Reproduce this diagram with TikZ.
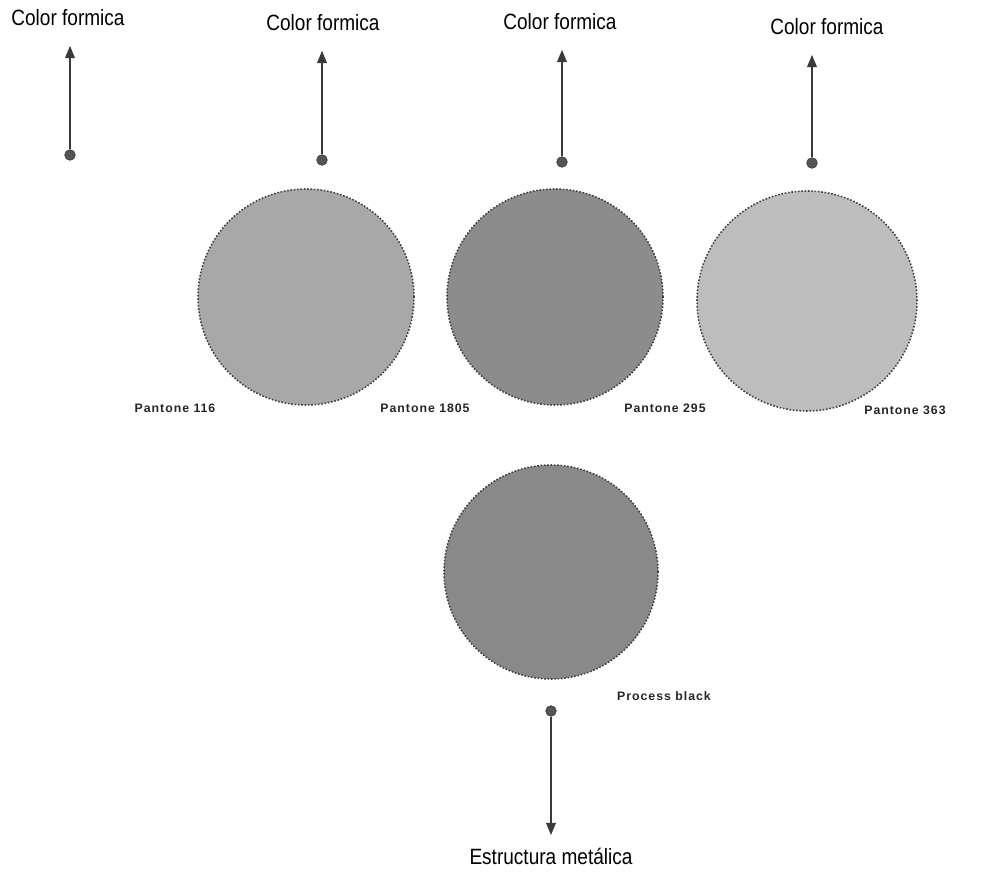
\documentclass[tikz,border=0pt]{standalone}
\usepackage{fontspec}
\setmainfont{Liberation Sans}
\newfontfamily\narrowfont[FakeStretch=0.86]{Liberation Sans}
\newfontfamily\tagfont[LetterSpace=8]{Liberation Sans}
\usepackage{tikz}
\usetikzlibrary{positioning,arrows.meta}
\definecolor{cInk}{HTML}{3A3A3A}
\definecolor{cDot}{HTML}{555555}
\definecolor{cSwA}{HTML}{A8A8A8}
\definecolor{cSwB}{HTML}{8C8C8C}
\definecolor{cSwC}{HTML}{BDBDBD}
\definecolor{cSwD}{HTML}{898989}

\begin{document}
\begin{tikzpicture}[
  >={Triangle[length=7pt,width=5.5pt]},
  lbl/.style={font=\narrowfont\fontsize{12.6}{15}\selectfont, text=black, inner sep=1pt},
  tag/.style={font=\tagfont\bfseries\fontsize{7}{8}\selectfont, text=black!85, inner sep=1pt},
  pin/.style={circle, fill=cDot, draw=cInk, line width=0.4pt, inner sep=0pt, minimum size=6pt},
  swatch/.style={circle, draw=black!75, densely dotted, line width=0.9pt, inner sep=0pt},
  lead/.style={->, draw=cInk, line width=0.9pt, shorten >=10pt},
]
\useasboundingbox (0,0) rectangle (19.96,17.52);

% top row: formica colours
\node[lbl] (t1) at (1.36,17.16) {Color formica};
\node[lbl] (t2) at (6.46,17.06) {Color formica};
\node[lbl] (t3) at (11.20,17.08) {Color formica};
\node[lbl] (t4) at (16.54,16.98) {Color formica};
\node[pin] (d1) at (1.40,14.42) {};
\node[pin] (d2) at (6.44,14.32) {};
\node[pin] (d3) at (11.24,14.28) {};
\node[pin] (d4) at (16.24,14.26) {};

\draw[lead] (d1) -- (d1 |- t1.south);
\draw[lead] (d2) -- (d2 |- t2.south);
\draw[lead] (d3) -- (d3 |- t3.south);
\draw[lead] (d4) -- (d4 |- t4.south);

% swatches
\node[swatch, fill=cSwA, minimum size=4.32cm] (s1) at (6.12,11.58) {};
\node[swatch, fill=cSwB, minimum size=4.32cm] (s2) at (11.10,11.58) {};
\node[swatch, fill=cSwC, minimum size=4.40cm] (s3) at (16.14,11.50) {};
\node[swatch, fill=cSwD, minimum size=4.28cm] (s4) at (11.02,6.08) {};

\node[tag] (p1) at (3.50,9.36) {Pantone 116};
\node[tag] (p2) at (8.50,9.36) {Pantone 1805};
\node[tag] (p3) at (13.30,9.36) {Pantone 295};
\node[tag] (p4) at (18.10,9.32) {Pantone 363};
\node[tag] (p5) at (13.28,3.60) {Process black};

% bottom: metal frame
\node[pin] (d5) at (11.02,3.30) {};
\node[lbl] (t5) at (11.02,0.40) {Estructura metálica};
\draw[lead, shorten >=6pt] (d5) -- (t5);
\end{tikzpicture}
\end{document}
